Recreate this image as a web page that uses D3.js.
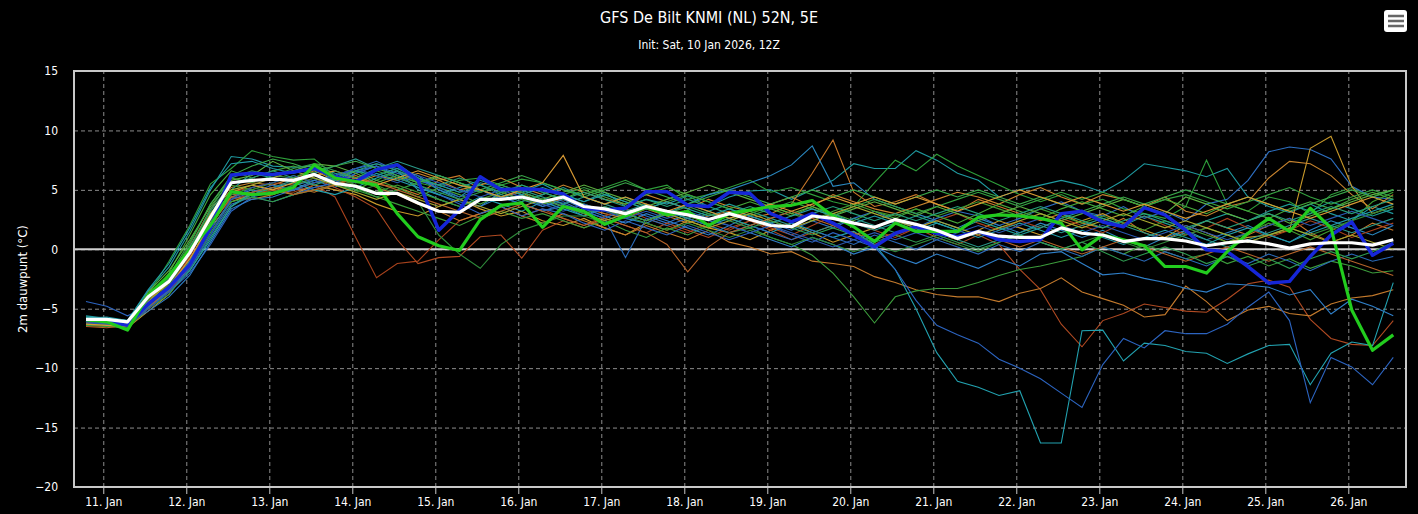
<!DOCTYPE html>
<html>
<head>
<meta charset="utf-8">
<script src="https://cdn.jsdelivr.net/npm/d3@7"></script>
<style>
body { margin: 0; background: #000; }
svg { display: block; }
text { font-family: "Liberation Sans Narrow", "DejaVu Sans Condensed", "Liberation Sans", sans-serif; fill: #fff; }
</style>
</head>
<body>
<svg id="chart" width="1418" height="514"></svg>
<script>
// GFS ensemble run, 6-hourly, times shown in CET (UTC+1)
var firstPoint = Date.UTC(2026, 0, 10, 19);
var stepHours = 6;
var yTicks = [-20, -15, -10, -5, 0, 5, 10, 15];
var dayTicks = [11, 12, 13, 14, 15, 16, 17, 18, 19, 20, 21, 22, 23, 24, 25, 26];

var ensMean = [-5.9,-5.9,-6.1,-4.0,-2.7,-0.3,2.7,5.6,
    5.8,5.9,5.8,6.3,5.55,5.3,4.7,4.7,
    3.9,3.2,3.1,4.2,4.2,4.4,4.0,4.4,
    3.6,3.4,3.0,3.6,3.2,2.9,2.5,3.0,
    2.5,2.0,1.9,2.8,2.6,2.2,1.85,2.5,
    2.1,1.6,0.9,1.5,1.1,1.0,1.0,1.8,
    1.35,1.2,0.65,0.9,0.9,0.7,0.3,0.55,
    0.7,0.45,0.1,0.45,0.55,0.55,0.35,0.8];

var opRun = [-5.95,-6.1,-6.8,-3.85,-2.2,-0.05,2.0,4.85,
    4.6,4.7,5.2,7.1,6.0,5.7,5.4,3.0,
    1.05,0.3,-0.1,2.5,3.7,3.9,1.85,3.6,
    3.2,2.1,2.8,3.6,2.9,3.2,2.0,3.0,
    3.3,3.6,3.7,4.1,2.8,1.9,0.65,2.2,
    1.5,1.5,1.5,2.7,2.9,2.8,2.6,2.2,
    -0.05,1.2,0.8,0.3,-1.45,-1.45,-2.0,-0.2,
    1.35,2.6,1.5,3.45,1.8,-5.1,-8.5,-7.2];

var control = [-6.0,-6.1,-6.4,-4.6,-3.2,-1.3,1.8,6.25,
    6.4,6.3,6.5,6.8,6.1,5.7,6.7,7.1,
    5.8,1.6,3.3,6.1,5.0,5.1,5.0,4.65,
    3.45,3.3,3.45,4.85,4.85,3.7,3.6,4.8,
    4.7,3.0,2.3,3.0,2.2,1.2,0.2,1.35,
    1.9,1.35,1.05,1.5,0.8,0.65,0.8,3.0,
    3.2,2.3,1.9,3.5,2.9,1.6,-0.05,-0.2,
    -1.45,-2.85,-2.7,-0.6,1.2,2.3,-0.5,0.5];

var members = [
  [-5.6,-5.8,-6.0,-3.5,-1.5,1.5,5.0,7.8, 7.6,7.0,6.9,7.0,6.4,6.0,6.8,7.2,
   6.0,5.0,4.4,5.6,5.2,4.8,5.5,4.6, 4.0,4.8,3.6,4.2,3.8,4.5,3.6,4.4,
   4.9,5.0,4.2,5.0,5.8,7.2,6.8,6.8, 8.3,7.5,6.4,5.8,4.4,5.0,5.4,5.8,
   5.4,4.8,5.8,7.2,6.9,6.6,6.1,6.8, 4.4,3.6,3.1,3.8,3.0,2.4,3.6,3.0],
  [-6.0,-6.1,-6.3,-3.8,-1.0,2.0,5.5,6.8, 8.3,7.8,7.5,7.6,6.2,6.6,5.8,6.6,
   5.6,5.2,5.8,6.0,5.4,5.9,5.6,5.0, 4.6,5.2,5.8,5.0,5.4,4.2,4.6,5.2,
   5.8,4.8,5.2,4.6,4.0,3.6,5.6,7.5, 6.6,8.0,7.0,6.2,5.4,4.6,4.0,4.6,
   3.8,4.2,3.4,3.0,2.6,3.6,7.5,3.8, 3.2,4.4,4.0,3.0,4.6,5.2,4.4,5.0],
  [-6.2,-6.3,-6.5,-4.8,-3.5,-1.0,2.5,4.6, 4.8,5.2,5.0,5.6,5.8,6.2,5.5,5.2,
   4.6,5.8,6.2,5.0,4.4,4.8,3.8,4.2, 3.5,3.0,2.6,3.4,2.8,2.2,2.8,3.2,
   2.6,3.0,3.8,6.4,9.2,4.8,3.6,4.0, 4.6,3.8,3.2,4.2,3.6,3.0,2.4,3.0,
   2.2,1.8,2.6,1.4,0.8,1.6,2.4,1.8, 1.2,2.0,2.6,1.4,0.6,1.2,2.2,1.6],
  [-5.8,-6.0,-6.2,-4.6,-3.0,-0.8,2.0,4.4, 5.0,4.6,5.4,5.8,5.2,6.4,7.0,6.2,
   5.2,4.6,4.0,3.6,4.4,3.8,3.2,3.6, 2.8,3.4,2.6,2.2,3.0,3.8,4.6,5.0,
   5.6,6.2,7.1,8.7,5.3,5.6,4.2,3.6, 3.0,2.4,1.8,2.6,2.0,1.4,2.2,1.6,
   1.0,1.6,0.8,0.2,1.0,1.6,0.8,1.4, 2.0,1.2,0.6,1.6,2.4,1.8,1.2,2.0],
  [-5.9,-6.0,-6.2,-5.0,-3.4,-1.6,1.2,3.8, 4.4,4.8,5.0,5.2,5.6,6.6,7.0,6.4,
   5.8,5.4,4.8,5.0,4.2,4.6,3.6,4.0, 3.2,2.6,3.4,2.8,2.2,3.0,2.4,2.0,
   2.8,2.2,1.6,2.4,1.8,2.6,3.2,2.4, 1.8,2.6,3.2,2.8,2.0,2.6,3.4,4.0,
   3.2,2.8,3.6,2.6,3.2,2.4,3.8,4.2, 5.8,8.2,8.6,8.4,7.6,5.3,4.4,4.2],
  [-6.4,-6.3,-6.6,-5.2,-3.8,-1.4,1.8,4.0, 4.6,5.0,4.6,5.4,5.0,4.6,3.8,3.2,
   2.8,3.6,4.2,3.4,2.8,3.2,2.4,2.0, 2.6,1.8,1.2,2.2,1.6,2.4,1.8,1.4,
   0.8,1.6,2.2,1.4,0.6,1.2,1.8,2.6, 2.0,1.4,0.8,1.6,2.4,1.8,1.2,1.8,
   2.4,3.0,2.2,1.6,1.0,2.0,1.4,0.6, 1.0,1.2,1.6,8.5,9.5,5.3,3.0,3.6],
  [-6.1,-6.2,-6.4,-4.4,-2.6,0.2,3.4,5.2, 5.6,5.4,6.0,6.6,5.8,5.6,6.2,5.8,
   6.4,5.8,5.0,5.4,6.0,5.2,4.6,5.4, 4.8,4.2,3.8,4.6,4.0,3.4,4.2,3.6,
   3.2,3.8,4.4,3.6,4.6,4.0,3.4,3.0, 3.6,4.2,4.8,4.4,3.8,4.6,5.2,4.4,
   3.8,4.6,4.2,3.6,4.4,3.2,2.8,3.6, 4.0,6.0,7.4,7.2,6.2,4.6,3.4,4.6],
  [-6.3,-6.4,-6.6,-5.0,-3.6,-1.2,2.2,4.2, 4.6,5.0,4.8,5.4,4.4,1.0,-2.4,-1.2,
   -1.0,0.8,2.4,3.0,3.6,2.8,3.4,2.6, 2.0,2.8,3.4,2.6,2.0,1.4,2.2,1.6,
   2.4,1.8,1.2,2.0,2.8,2.2,1.6,1.0, 1.8,2.4,3.0,2.2,1.6,2.4,1.8,2.6,
   2.0,1.4,2.2,2.8,2.0,1.2,1.8,2.6, 1.8,1.0,1.6,2.4,1.8,1.0,1.6,2.2],
  [-6.4,-6.5,-6.4,-4.6,-3.2,-0.6,2.6,4.8, 5.2,5.6,5.4,6.0,5.2,4.4,3.4,0.8,
   -1.2,-0.7,-0.6,1.05,1.2,-0.75,1.6,2.4, 1.8,2.6,2.0,1.4,2.2,1.6,1.0,1.8,
   2.4,1.6,0.8,1.4,2.0,1.2,0.4,1.2, 1.8,1.0,0.4,1.2,0.4,-1.7,-3.4,-6.3,
   -8.2,-6.0,-5.4,-4.6,-4.9,-5.2,-5.3,-4.2, -2.9,-2.6,-3.2,-5.9,-7.5,-8.0,-8.1,-6.0],
  [-6.2,-6.2,-6.5,-4.2,-3.0,-0.4,2.8,4.4, 4.2,4.6,5.2,4.8,5.4,6.0,5.2,4.6,
   3.8,3.2,2.4,3.0,3.6,2.8,2.2,3.0, 2.4,1.8,1.2,2.0,1.4,0.8,1.6,0.6,
   0.2,-0.4,-0.2,-1.0,-1.2,-1.45,-2.3,-2.8, -3.4,-3.8,-4.0,-4.0,-4.4,-3.7,-3.3,-2.4,
   -3.6,-4.15,-4.7,-5.7,-5.5,-3.1,-4.4,-6.0, -5.1,-4.8,-5.4,-5.6,-4.6,-4.1,-3.9,-3.4],
  [-5.8,-5.9,-6.2,-4.0,-2.4,0.4,3.8,6.0, 5.6,6.2,6.0,6.8,5.8,5.2,4.4,3.8,
   3.2,2.6,2.0,2.8,3.2,2.6,3.0,2.4, 1.8,2.4,1.6,1.0,1.8,1.2,2.0,1.4,
   1.8,1.0,0.4,-0.5,-2.0,-4.0,-6.2,-4.0, -3.5,-3.3,-3.3,-2.8,-2.2,-1.7,-1.4,-1.0,
   -0.6,0.2,-0.4,0.4,-0.2,-0.8,-0.4,-1.2, -0.6,-1.4,-0.8,-1.6,-1.0,-1.4,-2.0,-1.8],
  [-5.7,-5.8,-6.0,-4.4,-3.2,-1.8,0.8,3.6, 4.8,5.2,5.6,5.0,4.6,5.2,6.0,6.6,
   5.0,4.2,3.6,4.4,3.8,3.2,4.0,3.4, 2.8,3.6,3.0,2.4,3.2,2.6,2.0,2.6,
   2.0,1.4,2.2,1.6,1.0,1.5,0.4,-1.7, -5.0,-8.7,-11.1,-11.6,-12.3,-11.9,-16.3,-16.3,
   -6.85,-6.8,-9.4,-7.9,-8.1,-8.6,-8.75,-9.6, -8.8,-8.1,-8.0,-11.4,-8.75,-7.8,-8.1,-2.8],
  [-4.4,-4.8,-5.6,-4.8,-3.6,-2.0,0.4,3.2, 4.4,4.0,4.6,5.2,5.6,6.4,7.0,6.0,
   5.4,4.6,3.8,3.0,3.6,2.8,3.4,3.0, 2.2,1.6,2.4,1.8,1.2,2.0,1.4,0.8,
   1.4,2.0,1.2,0.6,1.4,0.8,0.2,-1.7, -4.3,-6.4,-7.2,-7.9,-9.25,-10.0,-10.9,-12.1,
   -13.3,-9.7,-7.5,-8.3,-6.85,-7.1,-7.1,-6.3, -4.85,-3.6,-6.0,-12.9,-9.1,-9.9,-11.4,-9.1],
  [-6.0,-6.1,-6.3,-5.2,-4.0,-2.2,0.6,3.4, 4.2,4.4,5.0,5.8,6.2,6.8,7.2,6.8,
   6.2,5.0,4.2,3.6,4.8,4.2,3.6,4.2, 3.4,2.8,2.2,3.0,2.4,1.8,1.2,2.0,
   1.4,0.8,0.2,1.0,0.4,-0.4,0.2,-0.6, -1.2,-0.4,-1.0,-1.6,-0.8,-1.4,-0.4,-0.2,
   -1.2,-2.15,-2.0,-2.45,-2.8,-3.3,-3.6,-2.9, -3.0,-3.2,-3.85,-3.4,-5.45,-4.2,-4.8,-5.6],
  [-6.0,-6.2,-6.4,-4.2,-2.0,1.2,4.6,6.6, 6.0,6.6,7.0,6.4,5.6,5.0,5.8,5.2,
   4.4,5.2,4.6,3.8,4.6,5.4,4.8,4.2, 5.0,4.4,3.8,4.6,5.2,4.6,4.0,3.4,
   4.0,3.4,2.8,3.6,3.0,2.4,3.2,2.6, 3.4,2.8,2.2,3.0,3.8,3.2,2.6,3.4,
   4.0,3.4,2.8,3.6,4.2,3.6,3.0,3.8, 3.2,2.6,3.4,4.0,3.4,4.2,4.8,4.2],
  [-5.7,-5.9,-6.1,-4.6,-3.2,-1.0,2.2,5.0, 6.4,6.0,5.6,6.2,5.8,6.6,6.2,6.8,
   6.0,5.4,4.8,5.4,4.6,4.0,4.6,5.2, 4.4,3.8,4.4,3.6,3.0,3.8,3.2,3.8,
   3.2,2.6,3.2,2.4,3.0,2.2,1.6,2.2, 2.8,2.2,1.6,2.4,1.8,1.2,1.8,2.6,
   3.2,2.6,2.0,2.8,2.2,1.6,2.4,3.0, 2.4,3.2,3.8,3.2,4.0,3.4,2.8,3.4],
  [-6.3,-6.2,-6.5,-4.4,-2.8,0.0,3.0,5.4, 5.0,5.6,6.2,5.6,6.0,5.4,4.8,5.4,
   4.8,4.2,3.6,4.2,4.8,4.2,3.8,4.4, 3.8,3.2,2.8,3.4,3.0,2.4,3.0,2.6,
   3.0,3.6,3.0,2.4,3.2,3.8,3.2,2.8, 3.4,2.8,3.4,4.0,3.4,2.8,3.4,2.8,
   2.2,2.8,2.2,1.6,2.4,1.8,1.2,0.6, 1.4,2.2,1.6,0.8,1.6,2.4,4.0,4.8],
  [-5.9,-6.0,-6.3,-3.6,-1.8,0.8,3.6,5.8, 6.2,7.4,6.6,7.2,7.0,6.4,5.6,6.2,
   5.6,6.2,5.6,4.8,5.4,4.8,4.2,4.8, 5.4,4.8,4.2,3.6,4.2,4.8,5.4,4.8,
   4.2,3.6,3.0,3.6,2.8,3.4,4.0,3.4, 2.8,3.6,3.0,2.4,3.0,3.6,3.0,2.4,
   3.0,3.6,4.2,3.6,3.0,4.4,3.8,3.0, 2.4,3.0,2.2,2.8,3.4,4.0,4.6,5.0],
  [-6.1,-6.3,-6.5,-4.8,-3.4,-1.4,1.6,4.2, 4.8,5.4,5.0,5.6,6.0,6.8,7.4,6.6,
   5.8,5.2,4.4,5.0,4.4,3.8,3.2,3.8, 3.2,2.6,-0.7,2.6,2.0,2.6,2.0,1.4,
   2.0,1.4,0.8,1.6,1.0,0.4,1.2,0.6, 0.0,0.8,0.2,-0.4,0.4,-0.2,0.6,0.0,
   -0.6,0.2,-0.4,-1.0,-0.2,-0.8,-1.4,-0.6, -1.2,-0.4,-1.0,-1.8,-1.0,-0.4,-1.0,-0.6],
  [-6.4,-6.5,-6.6,-5.0,-3.8,-1.6,1.4,4.0, 4.4,4.0,4.6,5.0,5.4,5.0,4.4,5.0,
   5.6,6.0,5.4,4.8,5.2,4.6,4.0,4.6, 5.2,4.6,4.0,3.4,4.0,4.6,4.0,3.4,
   2.8,3.4,4.0,3.4,2.8,3.6,4.2,3.6, 3.0,3.6,4.2,4.8,4.2,3.6,4.2,4.8,
   4.2,4.8,4.2,3.6,4.2,4.6,4.0,3.4, 4.0,4.6,5.2,4.4,3.8,4.4,5.0,4.4],
  [-5.8,-5.7,-6.0,-3.4,-1.2,1.8,5.2,7.2, 7.4,6.8,6.4,6.8,6.2,5.6,6.4,5.8,
   5.2,4.6,5.2,5.8,5.2,4.6,5.2,4.6, 4.0,4.6,4.0,3.4,4.0,3.4,2.8,3.4,
   2.8,2.2,2.8,3.4,2.8,2.2,2.8,2.2, 1.6,2.2,1.6,1.0,1.6,2.2,1.6,1.0,
   1.6,1.0,0.4,1.0,1.6,1.0,0.4,1.2, 1.8,1.2,0.6,1.4,2.0,2.6,3.2,3.8],
  [-6.2,-6.4,-6.6,-4.6,-3.0,-0.4,2.4,4.6, 5.2,4.8,5.4,6.0,5.4,4.8,5.4,4.6,
   4.0,1.2,-0.4,-1.6,0.4,1.6,2.2,2.8, 2.8,2.2,2.8,2.2,1.6,2.2,1.6,1.0,
   1.6,1.0,0.4,1.0,0.4,-0.2,0.4,-0.2, 0.4,1.0,0.4,-0.2,0.6,1.2,0.6,0.0,
   0.6,1.2,0.6,0.0,0.6,1.2,1.8,1.2, 0.6,1.2,1.8,1.2,1.8,2.4,3.0,3.6],
  [-6.0,-6.1,-6.2,-4.9,-3.6,-1.8,1.0,3.6, 4.6,5.2,5.8,6.4,7.0,7.6,6.8,7.4,
   6.8,6.2,5.6,5.0,4.4,5.0,4.4,3.8, 4.4,3.8,3.2,3.8,3.2,2.6,3.2,2.6,
   2.0,2.6,2.0,1.4,2.0,2.6,2.0,1.4, 2.0,1.4,0.8,0.2,0.8,1.4,2.0,1.4,
   2.0,2.6,2.0,1.4,0.8,1.4,0.8,0.2, 0.8,1.4,2.0,2.6,2.0,1.4,2.0,2.6],
  [-6.5,-6.6,-6.4,-5.0,-3.2,-0.8,2.0,4.4, 4.8,5.2,4.6,5.0,5.4,6.0,5.6,5.0,
   4.4,3.8,3.2,2.6,3.2,3.8,3.2,2.6, 2.0,2.6,2.0,1.4,0.4,-1.9,0.2,1.4,
   2.0,2.6,3.2,2.6,2.0,1.4,0.8,1.4, 2.0,1.4,0.8,1.4,0.8,0.2,0.8,0.2,
   -0.4,0.2,0.8,0.2,-0.4,-1.0,-0.4,0.2, -0.4,-1.0,-0.4,0.2,-0.4,-1.0,-1.6,-2.2],
  [-5.9,-6.0,-6.1,-3.8,-2.2,0.6,3.8,6.2, 7.0,7.6,7.2,6.6,7.0,7.4,6.8,6.2,
   5.6,6.2,5.6,5.0,5.6,6.2,5.6,5.0, 4.4,5.0,5.6,5.0,4.4,3.8,4.4,5.0,
   4.4,3.8,4.4,5.0,4.4,5.0,4.4,3.8, 4.4,5.0,4.4,5.0,4.4,3.8,4.4,3.8,
   3.2,3.8,4.4,3.8,4.4,5.0,4.4,3.8, 4.4,3.8,3.2,3.8,4.4,5.0,4.4,5.0],
  [-6.2,-6.3,-6.4,-5.0,-3.6,-1.6,1.2,4.2, 5.2,5.6,6.2,5.6,6.2,6.8,6.2,5.6,
   6.2,5.6,5.0,4.4,5.0,4.4,3.8,3.2, 3.8,3.2,2.6,3.2,2.6,3.2,2.6,2.0,
   1.4,2.0,1.4,0.8,0.2,0.8,1.4,0.8, 1.4,0.8,1.4,2.0,1.4,2.0,2.6,2.0,
   1.4,2.0,1.4,0.8,1.4,2.0,1.4,0.8, 1.4,2.0,2.6,2.0,2.6,3.2,2.6,2.0],
  [-6.3,-6.4,-6.5,-4.6,-3.2,-0.8,2.2,4.8, 5.4,5.0,5.6,6.2,6.6,6.0,5.4,6.0,
   6.6,6.0,5.4,5.0,4.4,5.0,5.6,7.9, 4.4,3.8,4.4,3.8,3.2,3.8,3.2,2.6,
   3.2,3.8,3.2,3.8,4.4,3.8,4.4,3.8, 4.4,3.8,3.2,3.8,4.4,5.0,4.4,3.8,
   4.4,3.8,3.2,3.8,3.2,2.6,3.2,3.8, 4.4,3.8,3.2,2.6,3.2,3.8,4.4,3.8],
  [-5.8,-5.9,-6.2,-4.0,-2.6,0.2,3.2,5.6, 6.0,6.6,6.0,5.4,6.0,6.6,7.2,6.6,
   6.0,5.4,6.0,5.4,4.8,5.4,4.8,4.2, 4.8,4.2,3.6,4.2,3.6,4.2,3.6,3.0,
   3.6,3.0,2.4,3.0,3.6,3.0,2.4,3.0, 2.4,3.0,3.6,3.0,2.4,3.0,3.6,3.0,
   2.4,1.8,2.4,3.0,2.4,1.8,2.4,1.8, 2.4,3.0,2.4,3.0,3.6,3.0,3.6,4.2],
  [-6.1,-6.2,-6.3,-4.4,-2.8,-0.2,3.0,5.0, 5.4,6.0,6.6,6.0,5.4,4.8,4.2,4.8,
   4.2,3.6,4.2,3.6,3.0,3.6,4.2,3.6, 3.0,2.4,3.0,2.4,3.0,2.4,1.8,2.4,
   3.0,2.4,1.8,2.4,3.0,3.6,3.0,2.4, 1.8,2.4,1.8,1.2,1.8,2.4,3.0,2.4,
   1.8,2.4,3.0,2.4,1.8,2.4,1.8,1.2, 0.6,1.2,1.8,1.2,0.6,1.2,0.6,0.0],
  [-5.9,-6.0,-6.4,-4.2,-2.4,0.0,3.4,6.0, 6.6,6.2,6.8,7.2,6.6,6.0,6.6,6.0,
   5.4,4.8,4.2,4.8,5.4,4.8,4.2,3.6, 3.0,3.6,3.0,2.4,3.0,3.6,3.0,2.4,
   1.8,2.4,1.8,1.2,1.8,1.2,0.6,1.2, 0.6,1.2,0.6,0.0,0.6,1.2,0.6,0.0,
   0.6,-0.2,-1.0,-0.4,0.2,-0.4,-1.2,-0.6, -1.4,-0.8,-1.6,-0.8,-0.2,-0.8,-0.2,0.6]
];

var memberColors = ['#1f9aa0','#2e9e3a','#c8782a','#2a88c0','#2d6fc2','#c99a2a','#c8842e','#a8421c',
    '#b04a22','#c47a2c','#3c9c3c','#22a2b0','#2c64c0','#2f7fc8','#44a83a','#1e9c94',
    '#3f9a30','#5cb040','#2a6ab8','#34a040','#209ca8','#2e8a3a','#2a9a8a','#b5642a',
    '#3aa84a','#2a58b0','#d89a34','#25a07a','#a8a830','#2f9a50'];

var plot = {left: 74, top: 71, right: 1406, bottom: 487};
var svg = d3.select('#chart');

var x = d3.scaleUtc()
    .domain([Date.UTC(2026, 0, 10, 15, 32), Date.UTC(2026, 0, 26, 16, 41)])
    .range([plot.left, plot.right]);
var y = d3.scaleLinear()
    .domain([-20, 15])
    .range([plot.bottom, plot.top]);

function timeAt(i) {
    return new Date(firstPoint + i * stepHours * 3600 * 1000);
}

var dayDates = dayTicks.map(function(d) { return new Date(Date.UTC(2026, 0, d)); });

// titles
svg.append('text')
    .attr('x', 709).attr('y', 23)
    .attr('text-anchor', 'middle')
    .attr('font-size', '16px')
    .text('GFS De Bilt KNMI (NL) 52N, 5E');
svg.append('text')
    .attr('x', 709).attr('y', 49)
    .attr('text-anchor', 'middle')
    .attr('font-size', '12px')
    .text('Init: Sat, 10 Jan 2026, 12Z');

// menu button
var menu = svg.append('g');
menu.append('rect')
    .attr('x', 1384).attr('y', 10).attr('width', 23).attr('height', 22)
    .attr('rx', 3).attr('fill', '#fff');
[16, 21, 26].forEach(function(yy) {
    menu.append('rect')
        .attr('x', 1388).attr('y', yy - 1.25).attr('width', 16).attr('height', 2.5)
        .attr('fill', '#666');
});

// grid
var gridX = svg.append('g')
    .attr('transform', 'translate(0,' + plot.bottom + ')')
    .call(d3.axisBottom(x).tickValues(dayDates).tickSize(-(plot.bottom - plot.top)).tickFormat(''));
var gridY = svg.append('g')
    .attr('transform', 'translate(' + plot.left + ',0)')
    .call(d3.axisLeft(y).tickValues(yTicks).tickSize(-(plot.right - plot.left)).tickFormat(''));
[gridX, gridY].forEach(function(g) {
    g.select('.domain').remove();
    g.selectAll('line')
        .attr('stroke', '#8c8c8c')
        .attr('stroke-width', 1)
        .attr('stroke-dasharray', '4,3');
});

// zero line
svg.append('line')
    .attr('x1', plot.left).attr('x2', plot.right)
    .attr('y1', y(0)).attr('y2', y(0))
    .attr('stroke', '#d0d0d0')
    .attr('stroke-width', 2);

// series
svg.append('clipPath').attr('id', 'clip')
    .append('rect')
    .attr('x', plot.left).attr('y', plot.top)
    .attr('width', plot.right - plot.left).attr('height', plot.bottom - plot.top);

var line = d3.line()
    .x(function(d, i) { return x(timeAt(i)); })
    .y(function(d) { return y(d); });

var series = svg.append('g').attr('clip-path', 'url(#clip)');
series.selectAll('path.member')
    .data(members)
    .enter().append('path')
    .attr('class', 'member')
    .attr('d', line)
    .attr('fill', 'none')
    .attr('stroke', function(d, i) { return memberColors[i % memberColors.length]; })
    .attr('stroke-width', 1.1);

series.append('path').datum(control)
    .attr('d', line).attr('fill', 'none')
    .attr('stroke', '#1626d8').attr('stroke-width', 3.5)
    .attr('stroke-linejoin', 'round');
series.append('path').datum(opRun)
    .attr('d', line).attr('fill', 'none')
    .attr('stroke', '#22cc1e').attr('stroke-width', 3.2)
    .attr('stroke-linejoin', 'round');
series.append('path').datum(ensMean)
    .attr('d', line).attr('fill', 'none')
    .attr('stroke', '#ffffff').attr('stroke-width', 3.2)
    .attr('stroke-linejoin', 'round');

// plot border
svg.append('rect')
    .attr('x', plot.left).attr('y', plot.top)
    .attr('width', plot.right - plot.left).attr('height', plot.bottom - plot.top)
    .attr('fill', 'none')
    .attr('stroke', '#c8c8c8')
    .attr('stroke-width', 2);

// axes
var xAxis = svg.append('g')
    .attr('transform', 'translate(0,' + plot.bottom + ')')
    .call(d3.axisBottom(x).tickValues(dayDates).tickSize(7).tickPadding(3)
        .tickFormat(d3.utcFormat('%-d. %b')));
xAxis.select('.domain').remove();
xAxis.selectAll('line').attr('stroke', '#c8c8c8');
xAxis.selectAll('text').attr('font-size', '12px').attr('fill', '#fff');

var yAxis = svg.append('g')
    .attr('transform', 'translate(' + plot.left + ',0)')
    .call(d3.axisLeft(y).tickValues(yTicks).tickSize(0).tickPadding(16));
yAxis.select('.domain').remove();
yAxis.selectAll('text').attr('font-size', '12px').attr('fill', '#fff');

svg.append('text')
    .attr('transform', 'translate(22,' + ((plot.top + plot.bottom) / 2) + ') rotate(-90)')
    .attr('text-anchor', 'middle')
    .attr('dominant-baseline', 'central')
    .attr('font-family', '"Liberation Sans", "DejaVu Sans", sans-serif')
    .attr('font-size', '13px')
    .text('2m dauwpunt (°C)');
</script>
</body>
</html>
